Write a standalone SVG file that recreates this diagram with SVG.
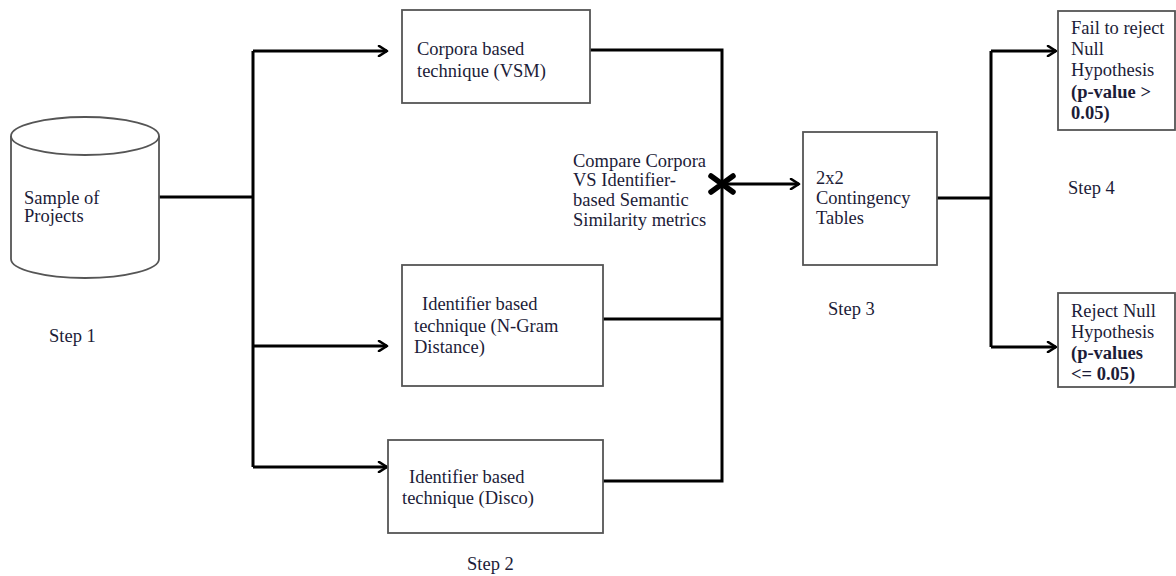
<svg xmlns="http://www.w3.org/2000/svg" width="1176" height="576" viewBox="0 0 1176 576">
<defs>
<marker id="ah" viewBox="0 0 12 12" refX="10" refY="6" markerWidth="12" markerHeight="12" markerUnits="userSpaceOnUse" orient="auto">
<path d="M2,1 L10,6 L2,11" fill="none" stroke="#000" stroke-width="2.6" stroke-linecap="round" stroke-linejoin="round"/>
</marker>
</defs>
<style>
.box{fill:#fff;stroke:#555;stroke-width:1.8}
.conn{fill:none;stroke:#000;stroke-width:3}
.t{font-family:"Liberation Serif","Times New Roman",serif;font-size:18.5px;fill:#1c1c38}
.b{font-weight:bold}
</style>
<rect width="1176" height="576" fill="#fff"/>
<g id="connectors">
<path class="conn" d="M159,197 H253"/>
<path class="conn" d="M253,51 V467"/>
<path class="conn" d="M253,51 H387" marker-end="url(#ah)"/>
<path class="conn" d="M253,346 H387" marker-end="url(#ah)"/>
<path class="conn" d="M253,467 H387" marker-end="url(#ah)"/>
<path class="conn" d="M590,50 H722 V481 H603"/>
<path class="conn" d="M603,319 H722"/>
<path class="conn" d="M722,184 H799" marker-end="url(#ah)"/>
<path d="M711,176 L733,192 M711,192 L733,176" stroke="#000" stroke-width="5.5" stroke-linecap="round"/>
<path class="conn" d="M937,198 H991"/>
<path class="conn" d="M991,51 V347"/>
<path class="conn" d="M991,51 H1056" marker-end="url(#ah)"/>
<path class="conn" d="M991,347 H1056" marker-end="url(#ah)"/>
</g>
<g id="sample">
<path class="box" d="M11,136 V259 A74,19 0 0 0 159,259 V136"/>
<ellipse class="box" cx="85" cy="136" rx="74" ry="19"/>
<text class="t" x="24" y="204">Sample of</text>
<text class="t" x="24" y="222">Projects</text>
</g>
<g id="corpora">
<rect class="box" x="402" y="10" width="188" height="93"/>
<text class="t" x="417" y="55">Corpora based</text>
<text class="t" x="417" y="77">technique (VSM)</text>
</g>
<g id="ngram">
<rect class="box" x="402" y="265" width="201" height="121"/>
<text class="t" x="422" y="310">Identifier based</text>
<text class="t" x="414" y="332">technique (N-Gram</text>
<text class="t" x="414" y="353">Distance)</text>
</g>
<g id="disco">
<rect class="box" x="388" y="440" width="215" height="93"/>
<text class="t" x="409" y="483">Identifier based</text>
<text class="t" x="402" y="504">technique (Disco)</text>
</g>
<g id="compare">
<text class="t" x="573" y="167">Compare Corpora</text>
<text class="t" x="573" y="186">VS Identifier-</text>
<text class="t" x="573" y="206">based Semantic</text>
<text class="t" x="573" y="226">Similarity metrics</text>
</g>
<g id="contingency">
<rect class="box" x="803" y="132" width="134" height="133"/>
<text class="t" x="816" y="184">2x2</text>
<text class="t" x="816" y="204">Contingency</text>
<text class="t" x="816" y="224">Tables</text>
</g>
<g id="fail">
<rect class="box" x="1058" y="11" width="117" height="119"/>
<text class="t" x="1071" y="34">Fail to reject</text>
<text class="t" x="1071" y="55">Null</text>
<text class="t" x="1071" y="76">Hypothesis</text>
<text class="t b" x="1071" y="98">(p-value &gt;</text>
<text class="t b" x="1071" y="119">0.05)</text>
</g>
<g id="reject">
<rect class="box" x="1058" y="293" width="117" height="94"/>
<text class="t" x="1071" y="317">Reject Null</text>
<text class="t" x="1071" y="338">Hypothesis</text>
<text class="t b" x="1071" y="359">(p-values</text>
<text class="t b" x="1071" y="380">&lt;= 0.05)</text>
</g>
<g id="steps">
<text class="t" x="49" y="342">Step 1</text>
<text class="t" x="467" y="570">Step 2</text>
<text class="t" x="828" y="315">Step 3</text>
<text class="t" x="1068" y="194">Step 4</text>
</g>
</svg>
